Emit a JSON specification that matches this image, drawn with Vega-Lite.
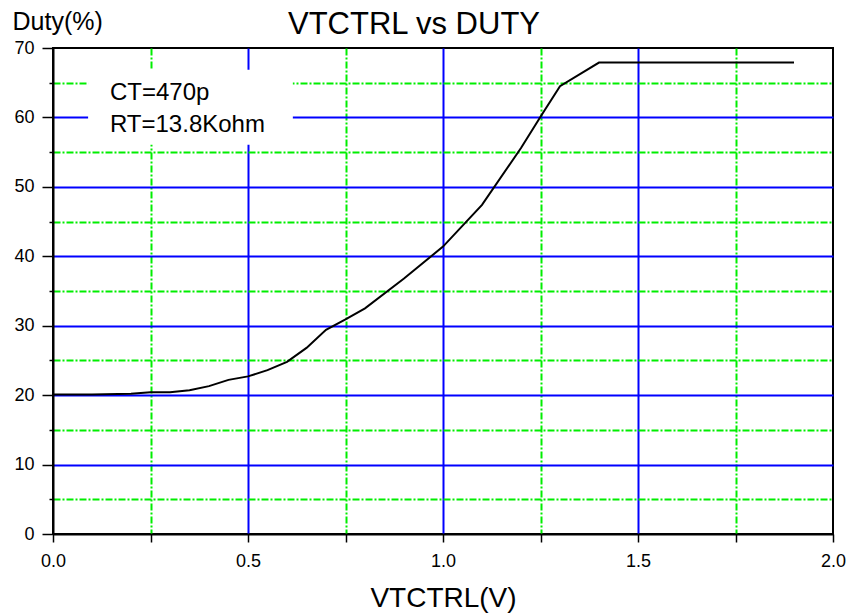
{
  "$schema": "https://vega.github.io/schema/vega-lite/v6.json",
  "width": 780,
  "height": 486,
  "autosize": {"type": "none"},
  "padding": {"left": 53, "top": 48, "right": 18, "bottom": 82},
  "background": "white",
  "config": {
    "font": "Liberation Sans",
    "view": {"stroke": "black", "strokeWidth": 2}
  },
  "title": {
    "text": "VTCTRL vs DUTY",
    "font": "Liberation Sans",
    "fontSize": 31,
    "fontWeight": "normal",
    "color": "black",
    "anchor": "middle",
    "frame": "group",
    "baseline": "alphabetic",
    "dx": -29,
    "dy": 71,
    "offset": 15
  },
  "encoding": {
    "x": {
      "field": "x", "type": "quantitative",
      "scale": {"domain": [0, 2], "nice": false, "zero": false},
      "axis": {
        "title": "VTCTRL(V)",
        "titleFont": "Liberation Sans",
        "titleFontSize": 28,
        "titleFontWeight": "normal",
        "titleColor": "black",
        "titleBaseline": "alphabetic",
        "titleY": 72,
        "values": [0, 0.25, 0.5, 0.75, 1, 1.25, 1.5, 1.75, 2],
        "labelExpr": "datum.value % 0.5 === 0 ? format(datum.value, '.1f') : ''",
        "labelFont": "Liberation Sans",
        "labelFontSize": 18,
        "labelColor": "black",
        "labelPadding": 10,
        "labelFlush": false,
        "labelOverlap": false,
        "domainColor": "black",
        "domainWidth": 2,
        "tickColor": "black",
        "tickWidth": 1.5,
        "tickSize": 8,
        "grid": true,
        "gridColor": {"condition": {"test": "datum.value % 0.5 === 0", "value": "#0000ff"}, "value": "#00ee00"},
        "gridDash": {"condition": {"test": "datum.value % 0.5 === 0", "value": []}, "value": [7, 2, 2, 2]},
        "gridWidth": 2,
        "gridOpacity": {"condition": {"test": "datum.value > 0 && datum.value < 2", "value": 1}, "value": 0}
      }
    },
    "y": {
      "field": "y", "type": "quantitative",
      "scale": {"domain": [0, 70], "nice": false, "zero": false},
      "axis": {
        "title": "Duty(%)",
        "titleFont": "Liberation Sans",
        "titleFontSize": 25,
        "titleFontWeight": "normal",
        "titleColor": "black",
        "titleAngle": 0,
        "titleAlign": "left",
        "titleBaseline": "alphabetic",
        "titleX": -41,
        "titleY": -19,
        "values": [0, 5, 10, 15, 20, 25, 30, 35, 40, 45, 50, 55, 60, 65, 70],
        "labelExpr": "datum.value % 10 === 0 ? format(datum.value, 'd') : ''",
        "labelFont": "Liberation Sans",
        "labelFontSize": 18,
        "labelColor": "black",
        "labelPadding": 8,
        "labelFlush": false,
        "labelOverlap": false,
        "domainColor": "black",
        "domainWidth": 2,
        "tickColor": "black",
        "tickWidth": 1.5,
        "tickSize": 11,
        "tickDash": {"condition": {"test": "datum.value % 10 === 0", "value": []}, "value": [4, 30]},
        "grid": true,
        "gridColor": {"condition": {"test": "datum.value % 10 === 0", "value": "#0000ff"}, "value": "#00ee00"},
        "gridDash": {"condition": {"test": "datum.value % 10 === 0", "value": []}, "value": [7, 2, 2, 2]},
        "gridWidth": 2,
        "gridOpacity": {"condition": {"test": "datum.value > 0 && datum.value < 70", "value": 1}, "value": 0}
      }
    }
  },
  "layer": [
    {
      "data": {"values": [{"x": 0.09, "x1": 0.615, "y": 56.05, "y1": 66.86}]},
      "mark": {"type": "rect", "fill": "white", "stroke": null},
      "encoding": {
        "x2": {"field": "x1"},
        "y2": {"field": "y1"}
      }
    },
    {
      "data": {"values": [
        {"label": "CT=470p", "x": 0.146, "y": 62.5},
        {"label": "RT=13.8Kohm", "x": 0.146, "y": 57.9}
      ]},
      "mark": {"type": "text", "align": "left", "baseline": "alphabetic", "font": "Liberation Sans", "fontSize": 24, "color": "black"},
      "encoding": {
        "text": {"field": "label"}
      }
    },
    {
      "data": {"values": [
        {"x": 0.0, "y": 20.1},
        {"x": 0.1, "y": 20.1},
        {"x": 0.2, "y": 20.2},
        {"x": 0.25, "y": 20.4},
        {"x": 0.3, "y": 20.4},
        {"x": 0.35, "y": 20.7},
        {"x": 0.4, "y": 21.3},
        {"x": 0.45, "y": 22.2},
        {"x": 0.5, "y": 22.7},
        {"x": 0.55, "y": 23.6},
        {"x": 0.6, "y": 24.8},
        {"x": 0.65, "y": 26.8},
        {"x": 0.7, "y": 29.4},
        {"x": 0.75, "y": 30.9},
        {"x": 0.8, "y": 32.5},
        {"x": 0.9, "y": 36.8},
        {"x": 1.0, "y": 41.4},
        {"x": 1.1, "y": 47.4},
        {"x": 1.2, "y": 55.6},
        {"x": 1.25, "y": 60.1},
        {"x": 1.3, "y": 64.5},
        {"x": 1.4, "y": 67.9},
        {"x": 1.9, "y": 67.9}
      ]},
      "mark": {"type": "line", "color": "black", "strokeWidth": 2},
      "encoding": {}
    }
  ]
}
